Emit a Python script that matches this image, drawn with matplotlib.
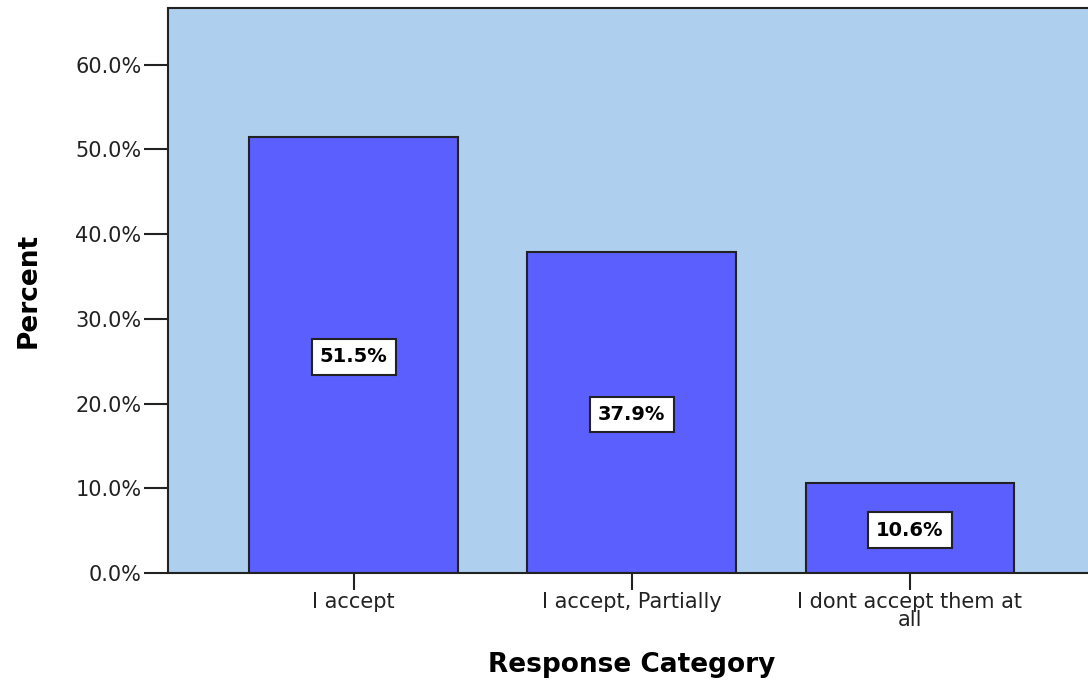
import matplotlib.pyplot as plt
from matplotlib.ticker import FuncFormatter

categories = ['I accept', 'I accept, Partially', 'I dont accept them at\nall']
percents = [51.5, 37.9, 10.6]
yticks = [0, 10, 20, 30, 40, 50, 60]

plt.rcParams['font.family'] = ['DejaVu Sans']

fig = plt.figure(figsize=(10.88, 6.91), dpi=100)
ax = fig.add_axes([0.1544, 0.1708, 0.8525, 0.8177])
ax.set_facecolor('#aecfee')

x = range(len(categories))
ax.bar(x, percents, width=0.75, color='#5b5ffe', edgecolor='#222222', linewidth=1.5)

# value boxes at mid height of each bar
for xi, p in zip(x, percents):
    ax.text(xi, p / 2, f'{p:.1f}%', ha='center', va='center_baseline', fontsize=14,
            fontweight='bold', color='black',
            bbox=dict(boxstyle='square,pad=0.42', facecolor='white',
                      edgecolor='#222222', linewidth=1.5))

ax.set_xlim(-0.667, 2.667)
ax.set_ylim(0, 66.7)
ax.set_yticks(yticks)
ax.yaxis.set_major_formatter(FuncFormatter(lambda v, pos: f'{v:.1f}%'))
ax.set_xticks(list(x))
ax.set_xticklabels(categories, fontsize=15, linespacing=0.85)
ax.tick_params(axis='y', labelsize=15, length=17, width=1.5, color='#222222',
               pad=2, labelcolor='#222222')
ax.tick_params(axis='x', length=12, width=1.5, color='#222222', pad=2,
               labelcolor='#222222')

for side in ['left', 'bottom', 'top']:
    ax.spines[side].set_linewidth(1.5)
    ax.spines[side].set_color('#222222')
ax.spines['right'].set_visible(False)

ax.set_ylabel('Percent', fontsize=19, fontweight='bold', labelpad=24)
ax.set_xlabel('Response Category', fontsize=19, fontweight='bold', labelpad=16)

fig.savefig('out.png', dpi=100)
